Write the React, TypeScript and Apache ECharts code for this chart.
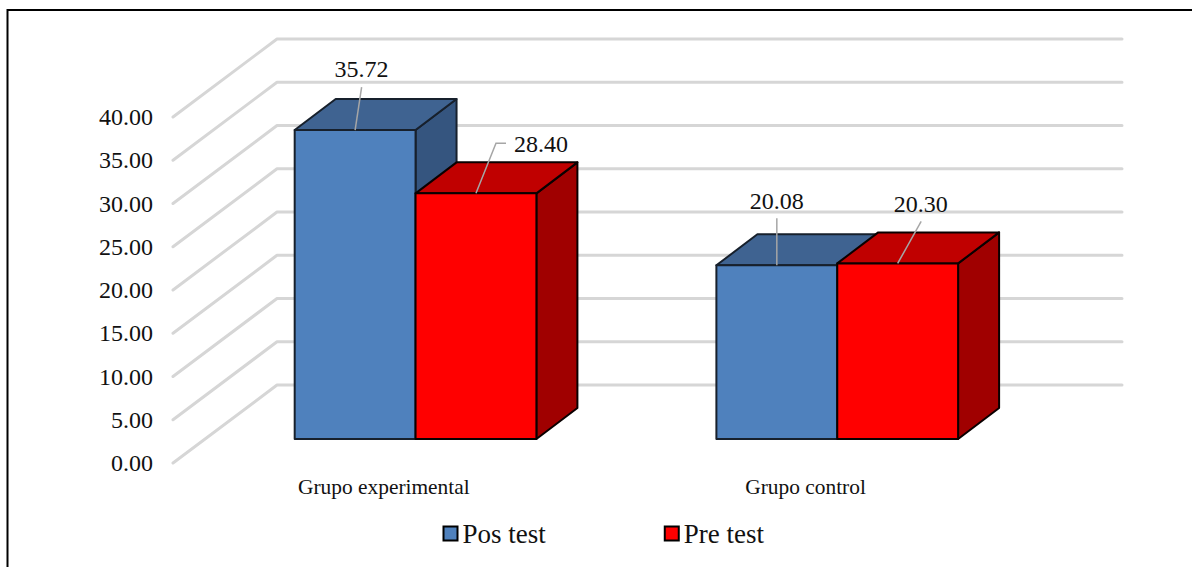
import React, { useEffect, useRef } from "react";
import * as echarts from "echarts";

const categories = ["Grupo experimental", "Grupo control"];
const posTest = [35.72, 20.08];
const preTest = [28.4, 20.3];
const tickValues = [0, 5, 10, 15, 20, 25, 30, 35, 40];

const FONT = '"Liberation Serif", "Times New Roman", serif';

// Oblique projection of the chart box
const WALL_DX = 104;
const WALL_DY = 78;
const WALL_RIGHT = 1122;
const BAR_SHIFT_X = 31.7;
const BAR_SHIFT_Y = 24;
const BAR_DEPTH_X = 41;
const BAR_DEPTH_Y = 31;
const BAR_BAND_RATIO = 0.2866;

// Value-label leader paths, relative to the top-front centre of each bar
const posLeaders = [
  [[0, 0], [6.5, -43]],
  [[0, 0], [0, -47]],
];
const preLeaders = [
  [[0, 0], [20, -50], [30, -50]],
  [[0, 0], [23.5, -42]],
];
const posLabelOffsets = [
  [6.5, -61, "center"],
  [0, -64, "center"],
];
const preLabelOffsets = [
  [38, -49, "left"],
  [23, -59, "center"],
];

type Palette = { front: string; top: string; side: string; edge: string };
const bluePalette: Palette = { front: "#4f81bd", top: "#3f6391", side: "#35557f", edge: "#17202c" };
const redPalette: Palette = { front: "#ff0000", top: "#c00000", side: "#a00000", edge: "#0a0000" };

function wallRenderer(_params: any, api: any) {
  const cs = _params.coordSys;
  const y = api.coord([0, api.value(1)])[1];
  return {
    type: "polyline",
    shape: {
      points: [
        [cs.x, y],
        [cs.x + WALL_DX, y - WALL_DY],
        [WALL_RIGHT, y - WALL_DY],
      ],
    },
    style: { fill: "none", stroke: "#d6d6d6", lineWidth: 3, lineJoin: "round", lineCap: "round" },
  };
}

function barRenderer(side: -1 | 0, palette: Palette, leaders: number[][][], labels: any[]) {
  return (_params: any, api: any) => {
    const idx = api.value(0);
    const value = api.value(1);
    const base = api.coord([idx, 0]);
    const top = api.coord([idx, value]);
    const barW = api.size([1, 0])[0] * BAR_BAND_RATIO;
    const x0 = base[0] + BAR_SHIFT_X + side * barW;
    const x1 = x0 + barW;
    const yb = base[1] - BAR_SHIFT_Y;
    const yt = top[1] - BAR_SHIFT_Y;
    const edge = { stroke: palette.edge, lineWidth: 2, lineJoin: "round" };
    const cx = (x0 + x1) / 2;
    const leader = leaders[idx].map((p) => [cx + p[0], yt + p[1]]);
    const lab = labels[idx];
    return {
      type: "group",
      children: [
        {
          type: "polygon",
          shape: { points: [[x1, yt], [x1 + BAR_DEPTH_X, yt - BAR_DEPTH_Y], [x1 + BAR_DEPTH_X, yb - BAR_DEPTH_Y], [x1, yb]] },
          style: { fill: palette.side, ...edge },
        },
        {
          type: "polygon",
          shape: { points: [[x0, yt], [x0 + BAR_DEPTH_X, yt - BAR_DEPTH_Y], [x1 + BAR_DEPTH_X, yt - BAR_DEPTH_Y], [x1, yt]] },
          style: { fill: palette.top, ...edge },
        },
        {
          type: "rect",
          shape: { x: x0, y: yt, width: barW, height: yb - yt },
          style: { fill: palette.front, ...edge },
        },
        {
          type: "polyline",
          z2: 50,
          shape: { points: leader },
          style: { fill: "none", stroke: "#a6a6a6", lineWidth: 1.5 },
        },
        {
          type: "text",
          z2: 60,
          style: {
            text: value.toFixed(2),
            x: cx + lab[0],
            y: yt + lab[1],
            fill: "#111111",
            font: `24px ${FONT}`,
            align: lab[2],
            verticalAlign: "middle",
          },
        },
      ],
    };
  };
}

export default function App() {
  const ref = useRef<HTMLDivElement>(null);

  useEffect(() => {
    document.body.style.margin = "0";
    const chart = echarts.init(ref.current!, null, { renderer: "svg" });
    chart.setOption({
      animation: false,
      backgroundColor: "#ffffff",
      textStyle: { fontFamily: FONT },
      grid: { left: 173, top: 117, width: 843.4, height: 346 },
      xAxis: {
        type: "category",
        data: categories,
        axisLine: { show: false },
        axisTick: { show: false },
        axisLabel: { color: "#111111", fontFamily: FONT, fontSize: 21.4, margin: 13 },
      },
      yAxis: {
        type: "value",
        min: 0,
        max: 40,
        interval: 5,
        axisLine: { show: false },
        axisTick: { show: false },
        splitLine: { show: false },
        axisLabel: {
          color: "#111111",
          fontFamily: FONT,
          fontSize: 24,
          margin: 20,
          verticalAlign: "middle",
          padding: [0, 0, 4, 0],
          formatter: (v: number) => v.toFixed(2),
        },
      },
      legend: {
        left: 437.5,
        top: 515,
        itemWidth: 14,
        itemHeight: 14,
        itemGap: 118,
        data: [
          { name: "Pos test", icon: "rect" },
          { name: "Pre test", icon: "rect" },
        ],
        textStyle: { color: "#111111", fontFamily: FONT, fontSize: 27 },
      },
      graphic: [
        {
          type: "polyline",
          silent: true,
          shape: { points: [[7.5, 700], [7.5, 10], [1300, 10]] },
          style: { fill: "none", stroke: "#000000", lineWidth: 2 },
        },
      ],
      series: [
        {
          type: "custom",
          name: "walls",
          silent: true,
          z: 1,
          data: tickValues.map((v) => [0, v]),
          encode: { x: 0, y: 1 },
          renderItem: wallRenderer,
        },
        {
          type: "custom",
          name: "Pos test",
          z: 2,
          itemStyle: { color: bluePalette.front, borderColor: "#000000", borderWidth: 1.5 },
          data: posTest.map((v, i) => [i, v]),
          encode: { x: 0, y: 1 },
          renderItem: barRenderer(-1, bluePalette, posLeaders, posLabelOffsets),
        },
        {
          type: "custom",
          name: "Pre test",
          z: 3,
          itemStyle: { color: redPalette.front, borderColor: "#000000", borderWidth: 1.5 },
          data: preTest.map((v, i) => [i, v]),
          encode: { x: 0, y: 1 },
          renderItem: barRenderer(0, redPalette, preLeaders, preLabelOffsets),
        },
      ],
    });
    return () => chart.dispose();
  }, []);

  return <div ref={ref} style={{ width: 1192, height: 567 }} />;
}
